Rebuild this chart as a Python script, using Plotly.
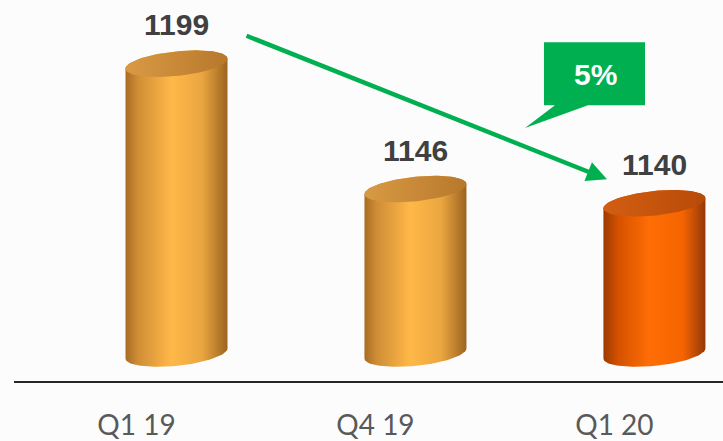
import numpy as np
import plotly.graph_objects as go

# chart data
categories = ["Q1 19", "Q4 19", "Q1 20"]
values = [1199, 1146, 1140]
change_label = "5%"

# axis setup (truncated value axis, like the original slide)
W, H = 723, 441
ML, MB = 14, 54
PLOT_W, PLOT_H = W - ML, H - MB
X_RANGE = [-0.68, 2.287]
Y_RANGE = [1064.9, 1225.9]
BASE = 1076.5
PX_X = PLOT_W / (X_RANGE[1] - X_RANGE[0])
PX_Y = PLOT_H / (Y_RANGE[1] - Y_RANGE[0])

# cylinder look (pixels)
RX, RY, SHEAR = 51, 12.5, 0.1

body_scales = [
    [[0, "#a86c22"], [0.12, "#cf8d36"], [0.45, "#ffb848"], [0.75, "#eaa640"], [1, "#9c6420"]],
    [[0, "#a86c22"], [0.12, "#cf8d36"], [0.45, "#ffb848"], [0.75, "#eaa640"], [1, "#9c6420"]],
    [[0, "#9c3a00"], [0.15, "#d65200"], [0.45, "#ff6d05"], [0.78, "#f56400"], [1, "#93390a"]],
]
top_scales = [
    [[0, "#d99a44"], [1, "#b8782c"]],
    [[0, "#d99a44"], [1, "#b8782c"]],
    [[0, "#d25e12"], [1, "#b84a08"]],
]


def ellipse_pts(cx, cy, t):
    dx = RX * np.cos(t)
    dy = RY * np.sin(t) + SHEAR * dx
    return cx + dx / PX_X, cy + dy / PX_Y


fig = go.Figure()

for i, v in enumerate(values):
    # body: front of bottom ellipse, right side up, back of top ellipse, left side down
    t_bot = np.linspace(np.pi, 2 * np.pi, 60)
    t_top = np.linspace(0, np.pi, 60)
    bx, by = ellipse_pts(i, BASE, t_bot)
    tx, ty = ellipse_pts(i, v, t_top)
    xs = np.concatenate([bx, tx, [bx[0]]])
    ys = np.concatenate([by, ty, [by[0]]])
    fig.add_trace(go.Scatter(x=xs, y=ys, mode="lines", line=dict(width=0),
                             fill="toself",
                             fillgradient=dict(type="horizontal", colorscale=body_scales[i]),
                             hoverinfo="skip", showlegend=False))
    # top face
    t_all = np.linspace(0, 2 * np.pi, 120)
    ex, ey = ellipse_pts(i, v, t_all)
    fig.add_trace(go.Scatter(x=ex, y=ey, mode="lines", line=dict(width=0),
                             fill="toself",
                             fillgradient=dict(type="horizontal", colorscale=top_scales[i]),
                             hoverinfo="skip", showlegend=False))
    fig.add_annotation(x=i, y=v, text=f"<b>{v}</b>", showarrow=False, yshift=39,
                       xanchor="center", yanchor="middle",
                       font=dict(family="Liberation Sans", size=30, color="#404040"))


def paper(px, py):
    return (px - ML) / PLOT_W, (PLOT_H - py) / PLOT_H


# green trend arrow
hx, hy = paper(607, 182)
fig.add_annotation(x=hx, y=hy, xref="paper", yref="paper", ax=245 - 607, ay=38 - 182,
                   showarrow=True, arrowhead=2, arrowsize=0.9, arrowwidth=4.5,
                   arrowcolor="#00b050", text="")

# callout box with pointer
pts = [(544, 43), (645, 43), (645, 107), (588, 107), (525, 130), (555, 107), (544, 107)]
path = "M " + " L ".join(f"{paper(a, b)[0]:.4f},{paper(a, b)[1]:.4f}" for a, b in pts) + " Z"
fig.add_shape(type="path", path=path, xref="paper", yref="paper",
              fillcolor="#00b050", line=dict(width=0))
lx, ly = paper(595, 76)
fig.add_annotation(x=lx, y=ly, xref="paper", yref="paper", text=f"<b>{change_label}</b>",
                   showarrow=False, xanchor="center", yanchor="middle",
                   font=dict(family="Liberation Sans", size=30, color="white"))

fig.update_xaxes(range=X_RANGE, tickvals=list(range(len(categories))), ticktext=categories,
                 showgrid=False, zeroline=False, showline=True, linecolor="#262626", linewidth=2,
                 ticks="", ticklabelstandoff=18, ticklabelshift=-40,
                 tickfont=dict(family="Lato", size=28, color="#595959"))
fig.update_yaxes(range=Y_RANGE, visible=False)
fig.update_layout(width=W, height=H, margin=dict(l=ML, r=0, t=0, b=MB),
                  paper_bgcolor="#fcfcfd", plot_bgcolor="rgba(0,0,0,0)", showlegend=False)

# page margin off so the figure sits at the window's corner
fig.write_html("out.html", config={"displayModeBar": False},
               post_script="document.body.style.margin='0';")
